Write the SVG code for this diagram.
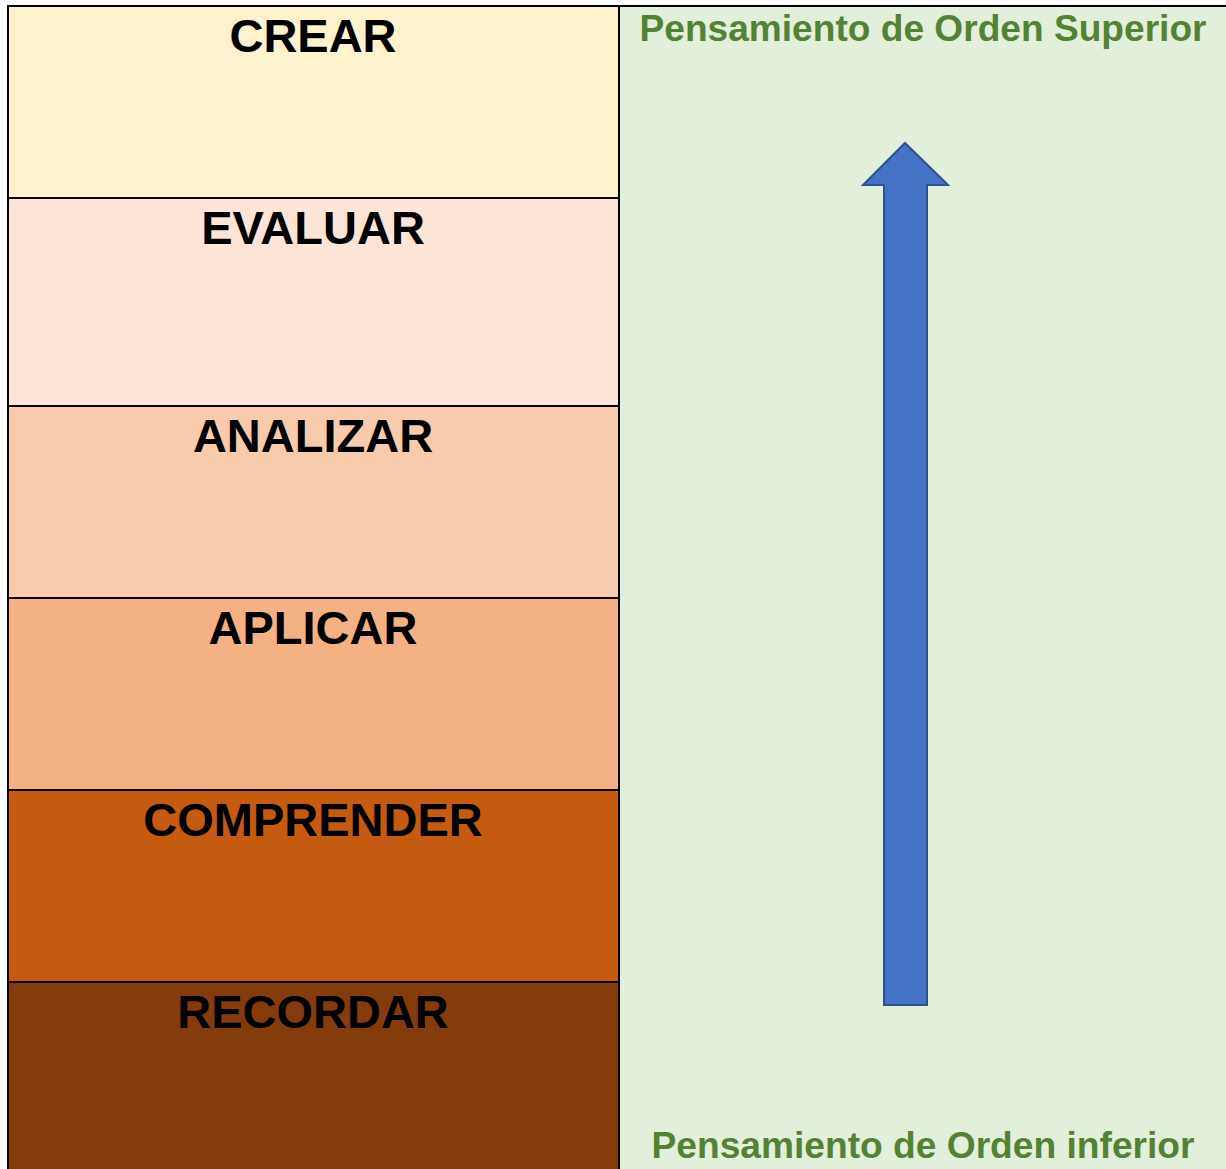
<svg xmlns="http://www.w3.org/2000/svg" width="1226" height="1169" viewBox="0 0 1226 1169">
<style>
.lbl{font-family:"Liberation Sans",Arial,sans-serif;font-weight:bold;font-size:47px;fill:#000;text-anchor:middle}
.grn{font-family:"Liberation Sans",Arial,sans-serif;font-weight:bold;font-size:36px;fill:#548235;text-anchor:middle}
.row{stroke:#000;stroke-width:2}
</style>
<rect x="0" y="0" width="1226" height="1169" fill="#ffffff"/>
<g id="panel">
<rect x="619" y="6" width="607" height="1163" fill="#E2EFDA"/>
<text class="grn" x="923" y="41" textLength="567" lengthAdjust="spacingAndGlyphs">Pensamiento de Orden Superior</text>
<text class="grn" x="923" y="1158" textLength="543" lengthAdjust="spacingAndGlyphs">Pensamiento de Orden inferior</text>
</g>
<g id="crear"><rect class="row" x="8" y="6" width="611" height="192" fill="#FFF2CC"/><text class="lbl" x="313" y="52">CREAR</text></g>
<g id="evaluar"><rect class="row" x="8" y="198" width="611" height="208" fill="#FCE4D6"/><text class="lbl" x="313" y="244">EVALUAR</text></g>
<g id="analizar"><rect class="row" x="8" y="406" width="611" height="192" fill="#F8CBAD"/><text class="lbl" x="313" y="452">ANALIZAR</text></g>
<g id="aplicar"><rect class="row" x="8" y="598" width="611" height="192" fill="#F4B183"/><text class="lbl" x="313" y="644">APLICAR</text></g>
<g id="comprender"><rect class="row" x="8" y="790" width="611" height="192" fill="#C55A11"/><text class="lbl" x="313" y="836">COMPRENDER</text></g>
<g id="recordar"><rect class="row" x="8" y="982" width="611" height="190" fill="#843C0C"/><text class="lbl" x="313" y="1028">RECORDAR</text></g>
<line x1="7" y1="6" x2="1226" y2="6" stroke="#000" stroke-width="2"/>
<g id="connectors">
<polygon points="884,1005 884,185 863,185 905,143 948,185 927,185 927,1005" fill="#4472C4" stroke="#2F528F" stroke-width="2"/>
</g>
</svg>
